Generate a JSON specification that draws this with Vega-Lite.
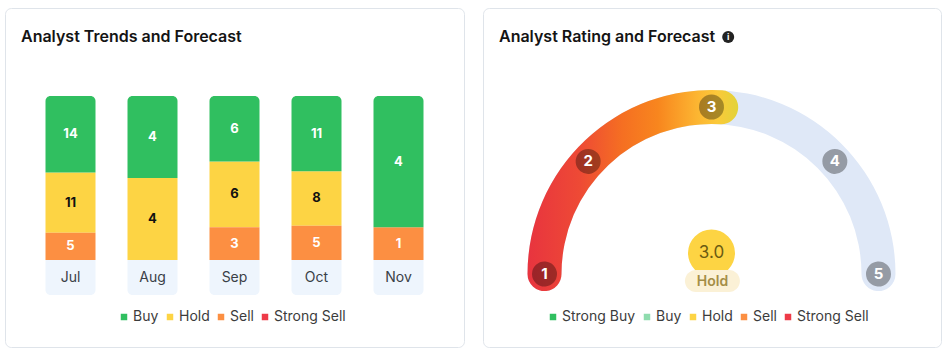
{
  "$schema": "https://vega.github.io/schema/vega-lite/v6.json",
  "background": "white",
  "padding": {"left": 4, "top": 7, "right": 0, "bottom": 0},
  "spacing": 17,
  "config": {
    "view": {"stroke": "#dfe4ea", "strokeWidth": 1, "cornerRadius": 6, "fill": "white"},
    "font": "Inter",
    "title": {"anchor": "start", "frame": "group", "fontSize": 16, "fontWeight": 600, "color": "#141414", "offset": -37, "dx": 16}
  },
  "datasets": {
    "trends": [
      {"month": "Jul", "rating": "Buy", "count": 14},
      {"month": "Jul", "rating": "Hold", "count": 11},
      {"month": "Jul", "rating": "Sell", "count": 5},
      {"month": "Aug", "rating": "Buy", "count": 4},
      {"month": "Aug", "rating": "Hold", "count": 4},
      {"month": "Sep", "rating": "Buy", "count": 6},
      {"month": "Sep", "rating": "Hold", "count": 6},
      {"month": "Sep", "rating": "Sell", "count": 3},
      {"month": "Oct", "rating": "Buy", "count": 11},
      {"month": "Oct", "rating": "Hold", "count": 8},
      {"month": "Oct", "rating": "Sell", "count": 5},
      {"month": "Nov", "rating": "Buy", "count": 4},
      {"month": "Nov", "rating": "Sell", "count": 1}
    ],
    "score": [{"score": 3.0, "label": "Hold", "low": 1, "high": 5}],
    "ratings": [{"rating": 1}, {"rating": 2}, {"rating": 3}, {"rating": 4}, {"rating": 5}],
    "cats": [{"cat": "Strong Buy"}, {"cat": "Buy"}, {"cat": "Hold"}, {"cat": "Sell"}, {"cat": "Strong Sell"}]
  },
  "resolve": {"scale": {"color": "independent"}, "legend": {"color": "independent"}},
  "hconcat": [
    {
      "width": 459,
      "height": 339,
      "title": {"text": "Analyst Trends and Forecast"},
      "data": {"name": "trends"},
      "transform": [
        {"stack": "count", "groupby": ["month"], "sort": [{"field": "rating", "order": "descending"}], "offset": "normalize", "as": ["y0", "y1"]},
        {"calculate": "(datum.y0 + datum.y1) / 2", "as": "ymid"}
      ],
      "encoding": {
        "x": {"field": "month", "type": "nominal", "sort": ["Jul", "Aug", "Sep", "Oct", "Nov"], "axis": null, "scale": {"paddingInner": 0.39024, "paddingOuter": 0.4939}}
      },
      "layer": [
        {
          "transform": [{"filter": "datum.rating === 'Buy'"}],
          "mark": {"type": "bar", "color": "#eef5fd", "cornerRadiusBottomLeft": 5, "cornerRadiusBottomRight": 5},
          "encoding": {
            "y": {"datum": 0, "type": "quantitative", "stack": null, "scale": {"domain": [-0.5305, 1.5366], "nice": false, "zero": false}, "axis": null},
            "y2": {"datum": -0.2134}
          }
        },
        {
          "transform": [{"filter": "datum.rating === 'Buy'"}],
          "mark": {"type": "text", "fontSize": 14, "color": "#3a3f47", "baseline": "middle"},
          "encoding": {
            "y": {"datum": -0.108, "type": "quantitative", "scale": {"domain": [-0.5305, 1.5366], "nice": false, "zero": false}, "axis": null},
            "text": {"field": "month"}
          }
        },
        {
          "transform": [{"filter": "datum.rating !== 'Buy'"}],
          "mark": {"type": "bar"},
          "encoding": {
            "y": {"field": "y1", "type": "quantitative", "scale": {"domain": [-0.5305, 1.5366], "nice": false, "zero": false}, "axis": null},
            "y2": {"field": "y0"},
            "color": {"field": "rating", "type": "nominal",
              "scale": {"domain": ["Buy", "Hold", "Sell", "Strong Sell"], "range": ["#30bf60", "#fdd444", "#fc8f42", "#ee3b48"]},
              "legend": {"orient": "none", "legendX": 112, "legendY": 302, "direction": "horizontal", "title": null, "symbolType": "square", "symbolSize": 42, "symbolStrokeWidth": 0, "symbolOpacity": 1, "labelFontSize": 14, "labelColor": "#3c3c3c", "columnPadding": 4, "labelOffset": 2}}
          }
        },
        {
          "transform": [{"filter": "datum.rating === 'Buy'"}],
          "mark": {"type": "bar", "cornerRadiusTopLeft": 5, "cornerRadiusTopRight": 5},
          "encoding": {
            "y": {"field": "y1", "type": "quantitative", "scale": {"domain": [-0.5305, 1.5366], "nice": false, "zero": false}, "axis": null},
            "y2": {"field": "y0"},
            "color": {"field": "rating", "type": "nominal",
              "scale": {"domain": ["Buy", "Hold", "Sell", "Strong Sell"], "range": ["#30bf60", "#fdd444", "#fc8f42", "#ee3b48"]}}
          }
        },
        {
          "mark": {"type": "text", "fontSize": 13, "fontWeight": "bold", "baseline": "middle"},
          "encoding": {
            "y": {"field": "ymid", "type": "quantitative", "scale": {"domain": [-0.5305, 1.5366], "nice": false, "zero": false}, "axis": null},
            "text": {"field": "count", "type": "quantitative"},
            "color": {"condition": {"test": "datum.rating === 'Hold'", "value": "#111111"}, "value": "white"}
          }
        }
      ]
    },
    {
      "width": 458,
      "height": 339,
      "title": {"text": "Analyst Rating and Forecast"},
      "data": {"name": "score"},
      "layer": [
        {
          "mark": {"type": "arc", "radius": 184, "radius2": 150, "cornerRadius": 17, "thetaOffset": -0.102, "theta2Offset": 0.102, "color": "#dfe8f7"},
          "encoding": {
            "x": {"datum": 0, "type": "quantitative", "scale": {"domain": [-1.3683, 1.3743], "nice": false, "zero": false}, "axis": null},
            "y": {"datum": 0, "type": "quantitative", "scale": {"domain": [-0.4371, 1.5928], "nice": false, "zero": false}, "axis": null},
            "theta": {"field": "low", "type": "quantitative", "stack": null, "scale": {"domain": [1, 2, 3, 4, 5], "range": [-1.5708, -0.831, 0, 0.831, 1.5708]}},
            "theta2": {"field": "high"}
          }
        },
        {
          "mark": {"type": "arc", "radius": 184, "radius2": 150, "cornerRadius": 17, "thetaOffset": -0.102, "theta2Offset": 0.16,
            "color": {"gradient": "linear", "x1": 0, "y1": 0, "x2": 1, "y2": 0, "stops": [
              {"offset": 0, "color": "#e8343f"},
              {"offset": 0.25, "color": "#ee4a35"},
              {"offset": 0.45, "color": "#f56f22"},
              {"offset": 0.62, "color": "#f8861e"},
              {"offset": 0.8, "color": "#fcb431"},
              {"offset": 0.9, "color": "#fbc93a"},
              {"offset": 1, "color": "#e2d33a"}
            ]}},
          "encoding": {
            "x": {"datum": 0, "type": "quantitative", "scale": {"domain": [-1.3683, 1.3743], "nice": false, "zero": false}, "axis": null},
            "y": {"datum": 0, "type": "quantitative", "scale": {"domain": [-0.4371, 1.5928], "nice": false, "zero": false}, "axis": null},
            "theta": {"field": "low", "type": "quantitative", "stack": null, "scale": {"domain": [1, 2, 3, 4, 5], "range": [-1.5708, -0.831, 0, 0.831, 1.5708]}},
            "theta2": {"field": "score"}
          }
        },
        {
          "data": {"name": "ratings"},
          "mark": {"type": "arc", "radius": 179.5, "radius2": 154.5, "cornerRadius": 12.5, "thetaOffset": -0.0749, "theta2Offset": 0.0749, "color": "black", "opacity": 0.33},
          "encoding": {
            "x": {"datum": 0, "type": "quantitative", "scale": {"domain": [-1.3683, 1.3743], "nice": false, "zero": false}, "axis": null},
            "y": {"datum": 0, "type": "quantitative", "scale": {"domain": [-0.4371, 1.5928], "nice": false, "zero": false}, "axis": null},
            "theta": {"field": "rating", "type": "quantitative", "stack": null, "scale": {"domain": [1, 2, 3, 4, 5], "range": [-1.5708, -0.831, 0, 0.831, 1.5708]}},
            "theta2": {"field": "rating"}
          }
        },
        {
          "data": {"name": "ratings"},
          "mark": {"type": "text", "radius": 167, "fontSize": 15, "fontWeight": "bold", "color": "white", "baseline": "middle", "align": "center"},
          "encoding": {
            "x": {"datum": 0, "type": "quantitative", "scale": {"domain": [-1.3683, 1.3743], "nice": false, "zero": false}, "axis": null},
            "y": {"datum": 0, "type": "quantitative", "scale": {"domain": [-0.4371, 1.5928], "nice": false, "zero": false}, "axis": null},
            "theta": {"field": "rating", "type": "quantitative", "stack": null, "scale": {"domain": [1, 2, 3, 4, 5], "range": [-1.5708, -0.831, 0, 0.831, 1.5708]}},
            "text": {"field": "rating", "type": "quantitative"}
          }
        },
        {
          "mark": {"type": "circle", "size": 2209, "color": "#fdd443", "opacity": 1},
          "encoding": {
            "x": {"datum": 0, "type": "quantitative", "scale": {"domain": [-1.3683, 1.3743], "nice": false, "zero": false}, "axis": null},
            "y": {"datum": 0.1257, "type": "quantitative", "scale": {"domain": [-0.4371, 1.5928], "nice": false, "zero": false}, "axis": null}
          }
        },
        {
          "mark": {"type": "rect", "cornerRadius": 11, "color": "#fbf1d6"},
          "encoding": {
            "x": {"datum": -0.159, "type": "quantitative", "scale": {"domain": [-1.3683, 1.3743], "nice": false, "zero": false}, "axis": null},
            "x2": {"datum": 0.17},
            "y": {"datum": 0.024, "type": "quantitative", "scale": {"domain": [-0.4371, 1.5928], "nice": false, "zero": false}, "axis": null},
            "y2": {"datum": -0.108}
          }
        },
        {
          "mark": {"type": "text", "fontSize": 17, "color": "#6b5b12", "baseline": "middle"},
          "encoding": {
            "x": {"datum": 0, "type": "quantitative", "scale": {"domain": [-1.3683, 1.3743], "nice": false, "zero": false}, "axis": null},
            "y": {"datum": 0.1257, "type": "quantitative", "scale": {"domain": [-0.4371, 1.5928], "nice": false, "zero": false}, "axis": null},
            "text": {"field": "score", "type": "quantitative", "format": ".1f"}
          }
        },
        {
          "mark": {"type": "text", "fontSize": 14, "fontWeight": 600, "color": "#a48e47", "baseline": "middle"},
          "encoding": {
            "x": {"datum": 0.006, "type": "quantitative", "scale": {"domain": [-1.3683, 1.3743], "nice": false, "zero": false}, "axis": null},
            "y": {"datum": -0.048, "type": "quantitative", "scale": {"domain": [-0.4371, 1.5928], "nice": false, "zero": false}, "axis": null},
            "text": {"field": "label"}
          }
        },
        {
          "mark": {"type": "circle", "size": 144, "color": "#222222", "opacity": 1},
          "encoding": {
            "x": {"datum": 0.1, "type": "quantitative", "scale": {"domain": [-1.3683, 1.3743], "nice": false, "zero": false}, "axis": null},
            "y": {"datum": 1.419, "type": "quantitative", "scale": {"domain": [-0.4371, 1.5928], "nice": false, "zero": false}, "axis": null}
          }
        },
        {
          "mark": {"type": "text", "text": "i", "fontSize": 9, "fontWeight": "bold", "color": "white", "baseline": "middle"},
          "encoding": {
            "x": {"datum": 0.1, "type": "quantitative", "scale": {"domain": [-1.3683, 1.3743], "nice": false, "zero": false}, "axis": null},
            "y": {"datum": 1.419, "type": "quantitative", "scale": {"domain": [-0.4371, 1.5928], "nice": false, "zero": false}, "axis": null}
          }
        },
        {
          "data": {"name": "cats"},
          "mark": {"type": "square", "opacity": 0},
          "encoding": {
            "x": {"datum": 0, "type": "quantitative", "scale": {"domain": [-1.3683, 1.3743], "nice": false, "zero": false}, "axis": null},
            "y": {"datum": 0, "type": "quantitative", "scale": {"domain": [-0.4371, 1.5928], "nice": false, "zero": false}, "axis": null},
            "color": {"field": "cat", "type": "nominal",
              "scale": {"domain": ["Strong Buy", "Buy", "Hold", "Sell", "Strong Sell"], "range": ["#30bf60", "#8fdcae", "#fdd444", "#fc8f42", "#ee3b48"]},
              "legend": {"orient": "none", "legendX": 63, "legendY": 302, "direction": "horizontal", "title": null, "symbolType": "square", "symbolSize": 42, "symbolStrokeWidth": 0, "symbolOpacity": 1, "labelFontSize": 14, "labelColor": "#3c3c3c", "columnPadding": 4, "labelOffset": 2}}
          }
        }
      ]
    }
  ]
}
